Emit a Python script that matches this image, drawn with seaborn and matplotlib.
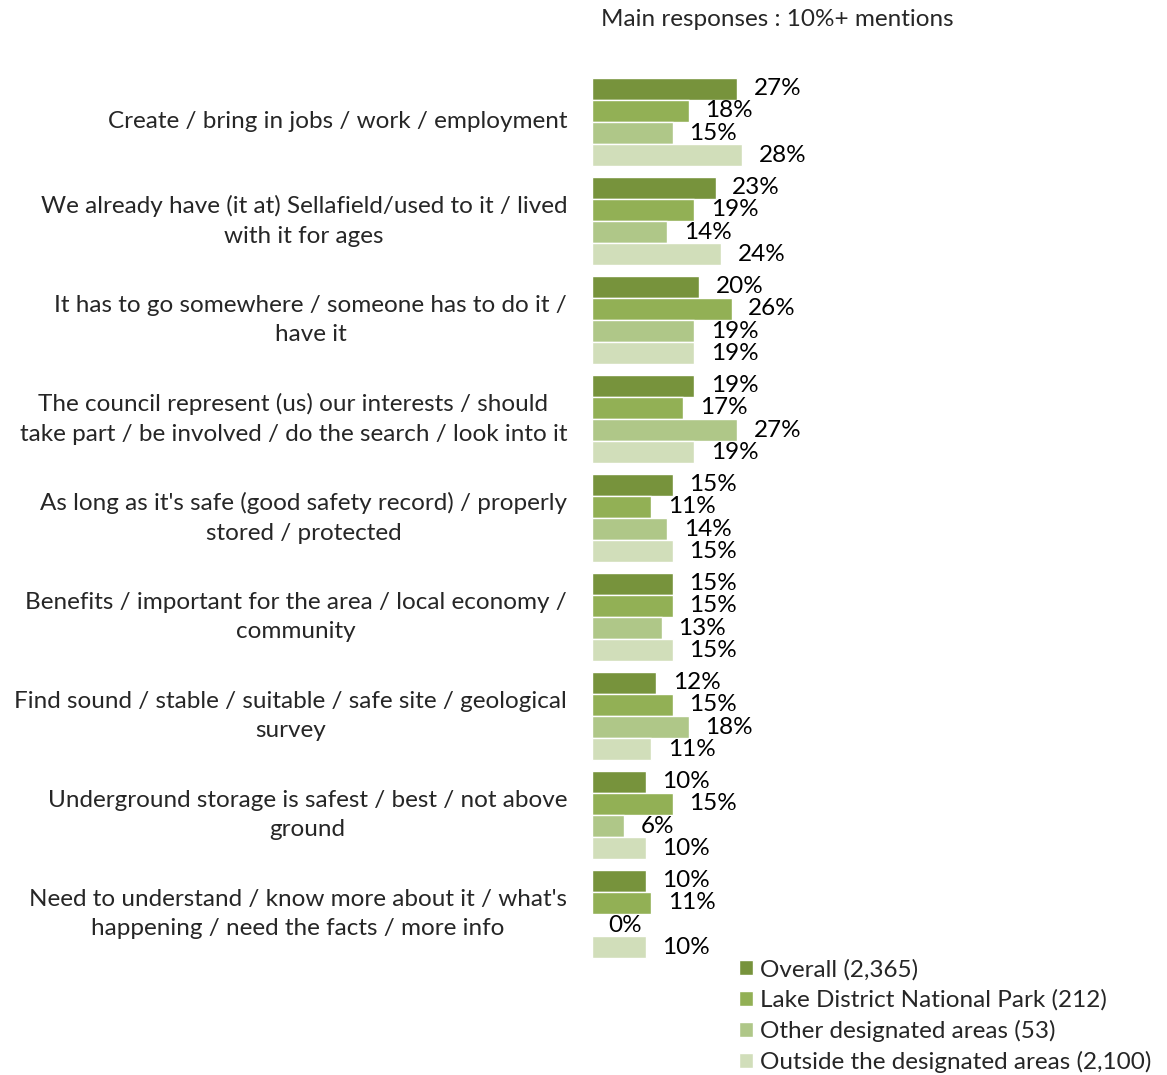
import matplotlib
matplotlib.use("Agg")
import matplotlib.pyplot as plt
import seaborn as sns
import pandas as pd

categories = [
    "Create / bring in jobs / work / employment",
    "We already have (it at) Sellafield/used to it / lived\nwith it for ages",
    "It has to go somewhere / someone has to do it /\nhave it",
    "The council represent (us) our interests / should\ntake part / be involved / do the search / look into it",
    "As long as it's safe (good safety record) / properly\nstored / protected",
    "Benefits / important for the area / local economy /\ncommunity",
    "Find sound / stable / suitable / safe site / geological\nsurvey",
    "Underground storage is safest / best / not above\nground",
    "Need to understand / know more about it / what's\nhappening / need the facts / more info",
]
series_names = [
    "Overall (2,365)",
    "Lake District National Park (212)",
    "Other designated areas (53)",
    "Outside the designated areas (2,100)",
]
overall = [27, 23, 20, 19, 15, 15, 12, 10, 10]
lake_district = [18, 19, 26, 17, 11, 15, 15, 15, 11]
other_designated = [15, 14, 19, 27, 14, 13, 18, 6, 0]
outside_designated = [28, 24, 19, 19, 15, 15, 11, 10, 10]
colors = ["#77933C", "#92B055", "#AFC788", "#D1DEBA"]

rows = []
for name, vals in zip(series_names,
                      [overall, lake_district, other_designated, outside_designated]):
    for cat, v in zip(categories, vals):
        rows.append({"category": cat, "series": name, "value": v})
df = pd.DataFrame(rows)

sns.set_style("white")
plt.rcParams["font.family"] = ["Lato", "DejaVu Sans"]
FS = 17.5

fig = plt.figure(figsize=(11.67, 10.75), dpi=100)
W, H = 1167, 1075
x0, x1 = 592, 1160
y_top, y_bot = 72.5, 963.5
ax = fig.add_axes([x0 / W, 1 - y_bot / H, (x1 - x0) / W, (y_bot - y_top) / H])

sns.barplot(data=df, y="category", x="value", hue="series", order=categories,
            hue_order=series_names, palette=colors, orient="h", width=0.89,
            saturation=1, ax=ax, legend=True)

px_per_unit = 145 / 27
ax.set_xlim(0, (x1 - x0) / px_per_unit)
ax.set_ylim(len(categories) - 0.5, -0.5)

for cont in ax.containers:
    ax.bar_label(cont, labels=[f"{v:.0f}%" for v in cont.datavalues],
                 padding=12, fontsize=FS, color="black")

ax.set_xlabel("")
ax.set_ylabel("")
ax.set_xticks([])
ax.tick_params(axis="y", length=0, pad=18, labelsize=FS)
for lbl in ax.get_yticklabels():
    lbl.set_multialignment("center")
    lbl.set_linespacing(1.5)
    lbl.set_verticalalignment("center")
for s in ax.spines.values():
    s.set_visible(False)

handles, labels = ax.get_legend_handles_labels()
ax.get_legend().remove()
fig.legend(handles, labels, loc="upper left", bbox_to_anchor=(729 / W, 1 - 949 / H),
           frameon=False, fontsize=FS, handlelength=0.58, handleheight=0.58,
           handletextpad=0.3, labelspacing=0.37, borderaxespad=0)

fig.text(777 / W, 1 - 20 / H, "Main responses : 10%+ mentions", ha="center",
         va="center", fontsize=FS)

fig.savefig("out.png", dpi=100)
